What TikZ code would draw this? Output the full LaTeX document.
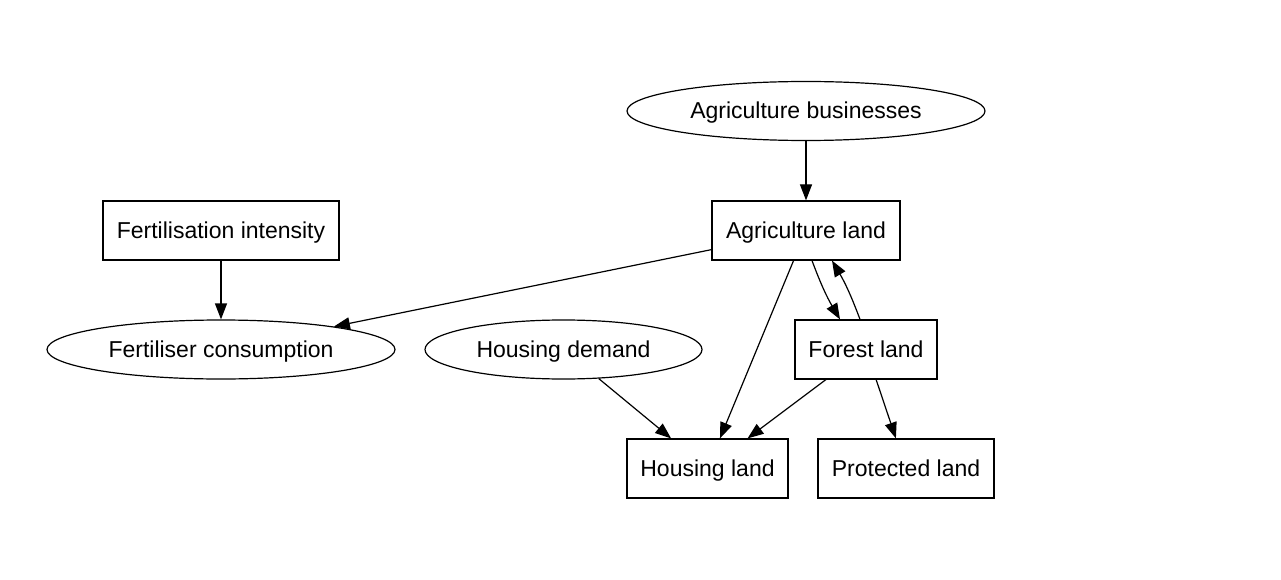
\documentclass[tikz,border=0pt]{standalone}
\usepackage{fontspec}
\setmainfont{Liberation Sans}
\usetikzlibrary{arrows.meta,shapes.geometric}

\tikzset{
  box/.style={draw, rectangle, minimum height=59pt, inner sep=0pt, text height=17pt, text depth=1pt},
  oval/.style={draw, ellipse, minimum height=59pt, inner sep=0pt, text height=17pt, text depth=1pt},
  link/.style={-{Triangle[length=16pt,width=12pt]}, shorten >=0pt}
}

\begin{document}
\begin{tikzpicture}[x=1pt, y=-1pt, line width=1.2pt, font=\fontsize{23}{27}\selectfont]
  \useasboundingbox (0,0) rectangle (1281,580);

  % Nodes
  \node[oval, minimum width=358pt] (agbus) at (806,111) {Agriculture businesses};
  \node[box, minimum width=188pt] (agland) at (806,230.5) {Agriculture land};
  \node[box, minimum width=236pt] (fertint) at (221,230.5) {Fertilisation intensity};
  \node[oval, minimum width=348pt] (fertcons) at (221,349.5) {Fertiliser consumption};
  \node[oval, minimum width=277pt] (housdem) at (563.5,349.5) {Housing demand};
  \node[box, minimum width=142pt] (forest) at (866,349.5) {Forest land};
  \node[box, minimum width=161pt] (housland) at (707.5,468.5) {Housing land};
  \node[box, minimum width=176pt] (protland) at (906,468.5) {Protected land};

  % Edges
  \draw[link] (agbus) -- (agland);
  \draw[link] (fertint) -- (fertcons);
  \draw[link] (agland) -- (fertcons);
  \draw[link] (agland) -- (housland);
  \draw[link] ([xshift=6pt]agland.south) to[bend right=5] ([xshift=-26pt]forest.north);
  \draw[link] ([xshift=-6pt]forest.north) to[bend right=5] ([xshift=26pt]agland.south);
  \draw[link] (housdem) -- (housland);
  \draw[link] (forest) -- (housland);
  \draw[link] (forest) -- (protland);
\end{tikzpicture}
\end{document}
